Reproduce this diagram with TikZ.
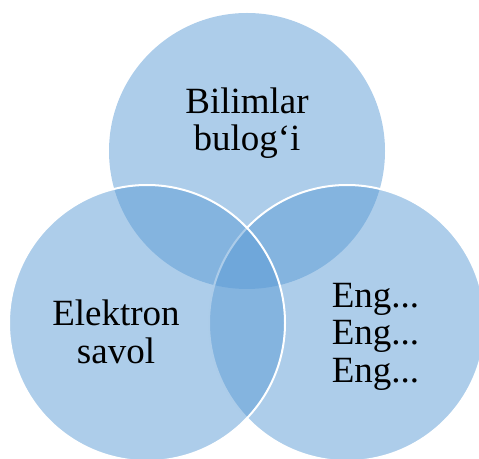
\documentclass[tikz,border=0pt]{standalone}
\usepackage{fontspec}
\setmainfont{Liberation Serif}
\definecolor{vennblue}{HTML}{5B9BD5}
\begin{document}
\begin{tikzpicture}[x=1pt,y=1pt,
  venn/.style={fill=vennblue,fill opacity=0.5},
  vennline/.style={draw=white,line width=2pt},
  lbl/.style={font=\fontsize{37}{37.5}\selectfont,align=center,anchor=base,inner sep=0pt,text=black}]
\useasboundingbox (0,0) rectangle (479,458);
\fill[venn] (247,307) circle[radius=138];
\path[venn,vennline] (347,135) circle[radius=138];
\path[venn,vennline] (147,135) circle[radius=138];
\node[lbl] (top) at (247,307) {Bilimlar\\bulog‘i};
\node[lbl] (left) at (116,95) {Elektron\\savol};
\node[lbl] (right) at (375.5,76) {Eng...\\Eng...\\Eng...};
\end{tikzpicture}
\end{document}
